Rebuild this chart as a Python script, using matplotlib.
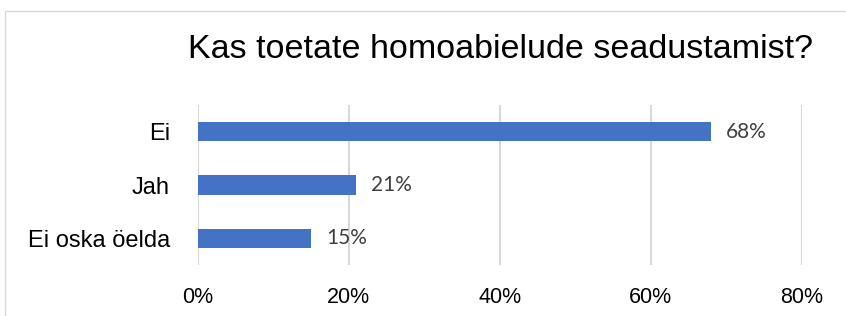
import matplotlib.pyplot as plt
from matplotlib.patches import Rectangle

# Data
categories = ['Ei', 'Jah', 'Ei oska öelda']
shares = [0.68, 0.21, 0.15]
value_labels = ['68%', '21%', '15%']
x_ticks = [0, 0.2, 0.4, 0.6, 0.8]
x_tick_labels = ['0%', '20%', '40%', '60%', '80%']

fig = plt.figure(figsize=(8.46, 3.16), dpi=100)

# chart frame
fig.patches.append(Rectangle((5 / 846, -0.05), 1.0, (316 - 11) / 316 + 0.05,
                             transform=fig.transFigure, fill=False,
                             edgecolor='#D9D9D9', linewidth=1.0))

ax = fig.add_axes([197.7 / 846, 51 / 316, (801.7 - 197.7) / 846, 160 / 316])

y = range(len(categories))
ax.barh(y, shares, height=0.36, color='#4472C4')
ax.set_ylim(2.5, -0.5)
ax.set_xlim(0, 0.8)

for i, v in enumerate(shares):
    ax.text(v + 0.02, i, value_labels[i], va='center', ha='left',
            fontsize=15, color='#404040', family='Lato')

ax.set_xticks(x_ticks)
ax.set_xticklabels(x_tick_labels, family='Liberation Sans', fontsize=15.5)
ax.set_yticks(list(y))
ax.set_yticklabels(categories, family='Liberation Sans', fontsize=17)
ax.tick_params(length=0)
ax.tick_params(axis='x', pad=16)
ax.tick_params(axis='y', pad=20)
ax.grid(axis='x', color='#D9D9D9', linewidth=1.5)
ax.set_axisbelow(True)
for s in ax.spines.values():
    s.set_visible(False)

fig.text(500 / 846, 1 - 58 / 316, 'Kas toetate homoabielude seadustamist?',
         ha='center', va='baseline', fontsize=24.5, family='Liberation Sans')

fig.savefig('out.png', dpi=100)
